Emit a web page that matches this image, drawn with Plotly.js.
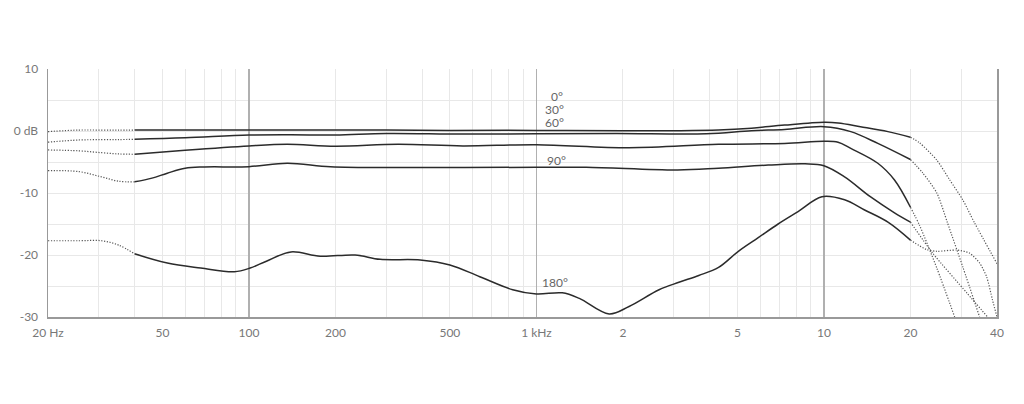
<!DOCTYPE html>
<html>
<head>
<meta charset="utf-8">
<script src="https://cdn.plot.ly/plotly-3.0.1.min.js"></script>
<style>
  html, body { margin: 0; padding: 0; background: #fff; }
  #chart { width: 1024px; height: 404px; }
</style>
</head>
<body>
<div id="chart"></div>
<script>
// ---- Data (frequency in Hz, level in dB) ----
const lowFreq = [20, 25.6, 30.7, 35.2, 40];

// 0 degrees
const f0 = [40, 60, 100, 200, 300, 500, 1000, 2000, 3000, 4300, 5600, 7300, 10000, 11200, 13400, 16700, 20000];
const v0 = [0.15, 0.15, 0.15, 0.15, 0.15, 0.1, 0.1, 0.05, 0.05, 0.15, 0.45, 0.95, 1.4, 1.3, 0.7, -0.1, -1.0];
const low0 = [-0.1, 0.15, 0.15, 0.15, 0.15];
const hf0 = [20000, 21500, 24700, 27400, 30400, 33400, 40000];
const hv0 = [-1.0, -1.9, -4.7, -7.9, -11.1, -14.8, -21.4];

// 30 degrees
const f30 = [40, 60, 100, 140, 200, 300, 550, 1000, 1900, 3900, 5600, 7300, 10000, 12400, 15400, 20000];
const v30 = [-1.35, -1.1, -0.65, -0.6, -0.65, -0.4, -0.5, -0.45, -0.4, -0.45, 0.05, 0.25, 0.7, -0.1, -2.0, -4.6];
const low30 = [-1.8, -1.45, -1.4, -1.38, -1.35];
const hf30 = [20000, 22100, 24700, 26900, 30400, 34800];
const hv30 = [-4.6, -6.8, -10.0, -14.8, -21.9, -30];

// 60 degrees
const f60 = [40, 60, 100, 136, 200, 330, 555, 1000, 2100, 4300, 7300, 10000, 11200, 12400, 15400, 17600, 20000];
const v60 = [-3.75, -3.1, -2.4, -2.15, -2.45, -2.15, -2.4, -2.2, -2.7, -2.15, -2.0, -1.65, -1.8, -2.8, -5.2, -7.9, -12.3];
const low60 = [-3.06, -3.2, -3.5, -3.7, -3.75];
const hf60 = [20000, 21500, 24700, 28500];
const hv60 = [-12.3, -15.2, -22.1, -30];

// 90 degrees
const f90 = [40, 46, 52, 60, 70, 100, 136, 192, 330, 1000, 1490, 3100, 4300, 6400, 8600, 10000, 11800, 14500, 17600, 20000];
const v90 = [-8.2, -7.6, -6.8, -6.0, -5.8, -5.75, -5.2, -5.75, -5.9, -5.85, -5.85, -6.3, -6.0, -5.5, -5.3, -5.6, -7.4, -10.6, -13.2, -14.7];
const low90 = [-6.4, -6.55, -7.4, -8.1, -8.2];
const hf90 = [20000, 23900, 31400, 37100];
const hv90 = [-14.7, -19.7, -26.1, -30];

// 180 degrees
const f180 = [40, 52, 68, 89, 101, 115, 140, 177, 234, 286, 394, 500, 635, 827, 1000, 1230, 1410, 1790, 2100, 2670, 3130, 3670, 4300, 5040, 5910, 6930, 8130, 9840, 11800, 13800, 16700, 20000];
const v180 = [-19.8, -21.3, -22.1, -22.7, -22.1, -21.0, -19.5, -20.2, -20.0, -20.7, -20.8, -21.6, -23.5, -25.6, -26.3, -26.1, -27.0, -29.5, -28.3, -25.6, -24.4, -23.3, -22.0, -19.4, -17.2, -15.0, -13.0, -10.6, -11.1, -12.7, -14.7, -17.6];
const low180 = [-17.7, -17.7, -17.7, -18.4, -19.8];
const hf180 = [20000, 22700, 24700, 29000, 32100, 34800, 36800, 38600, 40000];
const hv180 = [-17.6, -19.1, -19.4, -19.2, -19.7, -21.3, -23.5, -27.3, -30];

// Curve labels
const labelText = ["0°", "30°", "60°", "90°", "180°"];
const labelFreq = [1105, 1057, 1057, 1067, 1033];
const labelDb = [5.5, 3.4, 1.45, -4.75, -24.5];

// Tick labels
const xTickVals = [20, 50, 100, 200, 500, 1000, 2000, 5000, 10000, 20000, 40000];
const xTickText = ["20 Hz", "50", "100", "200", "500", "1 kHz", "2", "5", "10", "20", "40"];
const xMinorVals = [30, 40, 60, 70, 80, 90, 300, 400, 600, 700, 800, 900, 3000, 4000, 6000, 7000, 8000, 9000, 30000];
const xMajorGrid = [100, 1000, 10000];
const yTickVals = [-30, -20, -10, 0, 10];
const yTickText = ["-30", "-20", "-10", "0 dB", "10"];

// ---- Traces ----
const solid = { color: "#2b2b2b", width: 1.5, shape: "spline", smoothing: 1 };
const dottedLow = { color: "#555", width: 1.2, dash: "1.2px,1.6px", shape: "spline", smoothing: 1 };
const dottedHigh = { color: "#555", width: 1.2, dash: "1.2px,1.6px", shape: "spline", smoothing: 0.7 };

const curves = [
  [f0, v0, low0, hf0, hv0],
  [f30, v30, low30, hf30, hv30],
  [f60, v60, low60, hf60, hv60],
  [f90, v90, low90, hf90, hv90],
  [f180, v180, low180, hf180, hv180]
];

const traces = [];
curves.forEach(c => {
  traces.push({ x: lowFreq, y: c[2], mode: "lines", line: dottedLow, hoverinfo: "skip", showlegend: false });
  traces.push({ x: c[3], y: c[4], mode: "lines", line: dottedHigh, hoverinfo: "skip", showlegend: false });
  traces.push({ x: c[0], y: c[1], mode: "lines", line: solid, hoverinfo: "skip", showlegend: false });
});
traces.push({ x: [], y: [], xaxis: "x2", showlegend: false });

const xr = [Math.log10(20), Math.log10(40000)];
const tickFont = { family: "Lato, 'Open Sans', sans-serif", size: 12, color: "#777" };

const layout = {
  width: 1024, height: 404,
  margin: { l: 48, r: 27, t: 69, b: 87 },
  paper_bgcolor: "#fff", plot_bgcolor: "#fff",
  showlegend: false,
  font: tickFont,
  xaxis: {
    type: "log", range: xr, autorange: false,
    tickmode: "array", tickvals: xTickVals, ticktext: xTickText,
    showgrid: true, gridcolor: "#e8e8e8", gridwidth: 1,
    minor: { tickmode: "array", tickvals: xMinorVals, showgrid: true, gridcolor: "#e8e8e8", gridwidth: 1, ticks: "" },
    ticks: "", ticklabelstandoff: 4,
    showline: true, linecolor: "#999", linewidth: 1.5,
    zeroline: false, tickfont: tickFont, fixedrange: true
  },
  xaxis2: {
    type: "log", range: xr, autorange: false, overlaying: "x", anchor: "y",
    tickmode: "array", tickvals: xMajorGrid, showticklabels: false,
    showgrid: true, gridcolor: "#b0b0b0", gridwidth: 1.5, ticks: "",
    showline: false, zeroline: false
  },
  yaxis: {
    range: [-30, 10], autorange: false,
    tickmode: "array", tickvals: yTickVals, ticktext: yTickText,
    showgrid: true, gridcolor: "#e8e8e8", gridwidth: 1,
    minor: { dtick: 5, tick0: 0, showgrid: true, gridcolor: "#e8e8e8", gridwidth: 1, ticks: "" },
    ticks: "", ticklabelstandoff: 6,
    showline: true, linecolor: "#999", linewidth: 1.5, mirror: true,
    zeroline: false, tickfont: tickFont, fixedrange: true
  },
  annotations: labelText.map((t, i) => ({
    x: Math.log10(labelFreq[i]), y: labelDb[i], xref: "x", yref: "y",
    text: t, showarrow: false, xanchor: "left", yanchor: "middle",
    font: { family: "Lato, 'Open Sans', sans-serif", size: 12, color: "#666" }
  }))
};

Plotly.newPlot("chart", traces, layout, { staticPlot: true, displayModeBar: false });
</script>
</body>
</html>
